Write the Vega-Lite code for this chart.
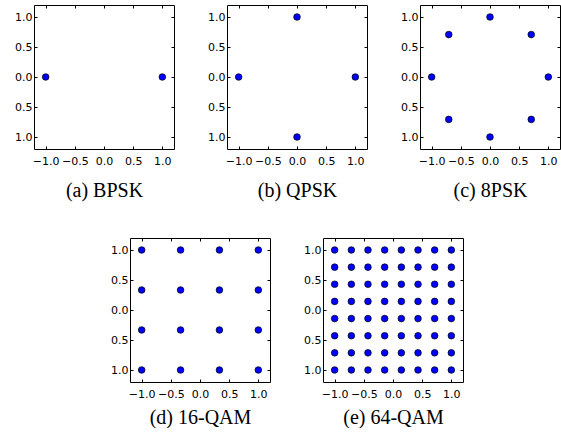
{
  "$schema": "https://vega.github.io/schema/vega-lite/v6.json",
  "padding": {"left": 14, "top": 4, "right": 0, "bottom": 0},
  "background": "white",
  "datasets": {
    "bpsk": [{"x": -1, "y": 0}, {"x": 1, "y": 0}],
    "qpsk": [{"x": 1, "y": 0}, {"x": 0, "y": 1}, {"x": -1, "y": 0}, {"x": 0, "y": -1}],
    "psk8": [
      {"x": 1, "y": 0}, {"x": 0.707, "y": 0.707}, {"x": 0, "y": 1}, {"x": -0.707, "y": 0.707},
      {"x": -1, "y": 0}, {"x": -0.707, "y": -0.707}, {"x": 0, "y": -1}, {"x": 0.707, "y": -0.707}
    ],
    "qam16": [
      {"x": -1, "y": 1}, {"x": -0.333, "y": 1}, {"x": 0.333, "y": 1}, {"x": 1, "y": 1},
      {"x": -1, "y": 0.333}, {"x": -0.333, "y": 0.333}, {"x": 0.333, "y": 0.333}, {"x": 1, "y": 0.333},
      {"x": -1, "y": -0.333}, {"x": -0.333, "y": -0.333}, {"x": 0.333, "y": -0.333}, {"x": 1, "y": -0.333},
      {"x": -1, "y": -1}, {"x": -0.333, "y": -1}, {"x": 0.333, "y": -1}, {"x": 1, "y": -1}
    ],
    "qam64": [
      {"x": -1, "y": 1}, {"x": -0.714, "y": 1}, {"x": -0.429, "y": 1}, {"x": -0.143, "y": 1}, {"x": 0.143, "y": 1}, {"x": 0.429, "y": 1}, {"x": 0.714, "y": 1}, {"x": 1, "y": 1},
      {"x": -1, "y": 0.714}, {"x": -0.714, "y": 0.714}, {"x": -0.429, "y": 0.714}, {"x": -0.143, "y": 0.714}, {"x": 0.143, "y": 0.714}, {"x": 0.429, "y": 0.714}, {"x": 0.714, "y": 0.714}, {"x": 1, "y": 0.714},
      {"x": -1, "y": 0.429}, {"x": -0.714, "y": 0.429}, {"x": -0.429, "y": 0.429}, {"x": -0.143, "y": 0.429}, {"x": 0.143, "y": 0.429}, {"x": 0.429, "y": 0.429}, {"x": 0.714, "y": 0.429}, {"x": 1, "y": 0.429},
      {"x": -1, "y": 0.143}, {"x": -0.714, "y": 0.143}, {"x": -0.429, "y": 0.143}, {"x": -0.143, "y": 0.143}, {"x": 0.143, "y": 0.143}, {"x": 0.429, "y": 0.143}, {"x": 0.714, "y": 0.143}, {"x": 1, "y": 0.143},
      {"x": -1, "y": -0.143}, {"x": -0.714, "y": -0.143}, {"x": -0.429, "y": -0.143}, {"x": -0.143, "y": -0.143}, {"x": 0.143, "y": -0.143}, {"x": 0.429, "y": -0.143}, {"x": 0.714, "y": -0.143}, {"x": 1, "y": -0.143},
      {"x": -1, "y": -0.429}, {"x": -0.714, "y": -0.429}, {"x": -0.429, "y": -0.429}, {"x": -0.143, "y": -0.429}, {"x": 0.143, "y": -0.429}, {"x": 0.429, "y": -0.429}, {"x": 0.714, "y": -0.429}, {"x": 1, "y": -0.429},
      {"x": -1, "y": -0.714}, {"x": -0.714, "y": -0.714}, {"x": -0.429, "y": -0.714}, {"x": -0.143, "y": -0.714}, {"x": 0.143, "y": -0.714}, {"x": 0.429, "y": -0.714}, {"x": 0.714, "y": -0.714}, {"x": 1, "y": -0.714},
      {"x": -1, "y": -1}, {"x": -0.714, "y": -1}, {"x": -0.429, "y": -1}, {"x": -0.143, "y": -1}, {"x": 0.143, "y": -1}, {"x": 0.429, "y": -1}, {"x": 0.714, "y": -1}, {"x": 1, "y": -1}
    ]
  },
  "config": {
    "view": {"stroke": "black", "strokeWidth": 1},
    "axis": {
      "domain": false, "grid": false,
      "labelFont": "DejaVu Sans", "labelFontSize": 11, "labelColor": "black",
      "tickColor": "black", "tickSize": -3, "tickWidth": 1,
      "titleFont": "Liberation Serif", "titleFontSize": 20, "titleFontWeight": "normal", "titleColor": "black",
      "labelOverlap": false, "labelFlush": false,
      "values": [-1, -0.5, 0, 0.5, 1], "format": ".1f"
    }
  },
  "spacing": 36,
  "vconcat": [
    {
      "bounds": "flush",
      "spacing": 53,
      "hconcat": [
        {
          "width": 140, "height": 144,
          "data": {"name": "bpsk"},
          "layer": [
            {"mark": {"type": "point", "filled": true, "fill": "#0000ff", "stroke": "black", "strokeWidth": 0.7, "size": 44, "opacity": 1},
             "encoding": {
               "x": {"field": "x", "type": "quantitative", "scale": {"domain": [-1.2, 1.2], "nice": false, "zero": false}, "axis": {"orient": "bottom", "title": "(a) BPSK", "labelPadding": 9, "titlePadding": 14}},
               "y": {"field": "y", "type": "quantitative", "scale": {"domain": [-1.2, 1.2], "nice": false, "zero": false}, "axis": {"orient": "left", "title": null, "labelPadding": 5, "labelExpr": "replace(datum.label, '−', '')"}}
             }},
            {"mark": {"type": "point", "opacity": 0},
             "encoding": {
               "x": {"field": "x", "type": "quantitative", "axis": {"orient": "top", "labels": false, "title": null}},
               "y": {"field": "y", "type": "quantitative", "axis": {"orient": "right", "labels": false, "title": null}}
             }}
          ],
          "resolve": {"axis": {"x": "independent", "y": "independent"}}
        },
        {
          "width": 140, "height": 144,
          "data": {"name": "qpsk"},
          "layer": [
            {"mark": {"type": "point", "filled": true, "fill": "#0000ff", "stroke": "black", "strokeWidth": 0.7, "size": 44, "opacity": 1},
             "encoding": {
               "x": {"field": "x", "type": "quantitative", "scale": {"domain": [-1.2, 1.2], "nice": false, "zero": false}, "axis": {"orient": "bottom", "title": "(b) QPSK", "labelPadding": 9, "titlePadding": 14}},
               "y": {"field": "y", "type": "quantitative", "scale": {"domain": [-1.2, 1.2], "nice": false, "zero": false}, "axis": {"orient": "left", "title": null, "labelPadding": 5, "labelExpr": "replace(datum.label, '−', '')"}}
             }},
            {"mark": {"type": "point", "opacity": 0},
             "encoding": {
               "x": {"field": "x", "type": "quantitative", "axis": {"orient": "top", "labels": false, "title": null}},
               "y": {"field": "y", "type": "quantitative", "axis": {"orient": "right", "labels": false, "title": null}}
             }}
          ],
          "resolve": {"axis": {"x": "independent", "y": "independent"}}
        },
        {
          "width": 140, "height": 144,
          "data": {"name": "psk8"},
          "layer": [
            {"mark": {"type": "point", "filled": true, "fill": "#0000ff", "stroke": "black", "strokeWidth": 0.7, "size": 44, "opacity": 1},
             "encoding": {
               "x": {"field": "x", "type": "quantitative", "scale": {"domain": [-1.2, 1.2], "nice": false, "zero": false}, "axis": {"orient": "bottom", "title": "(c) 8PSK", "labelPadding": 9, "titlePadding": 14}},
               "y": {"field": "y", "type": "quantitative", "scale": {"domain": [-1.2, 1.2], "nice": false, "zero": false}, "axis": {"orient": "left", "title": null, "labelPadding": 5, "labelExpr": "replace(datum.label, '−', '')"}}
             }},
            {"mark": {"type": "point", "opacity": 0},
             "encoding": {
               "x": {"field": "x", "type": "quantitative", "axis": {"orient": "top", "labels": false, "title": null}},
               "y": {"field": "y", "type": "quantitative", "axis": {"orient": "right", "labels": false, "title": null}}
             }}
          ],
          "resolve": {"axis": {"x": "independent", "y": "independent"}}
        }
      ]
    },
    {
      "bounds": "flush",
      "spacing": 53,
      "hconcat": [
        {
          "width": 43, "height": 144,
          "data": {"values": []},
          "mark": {"type": "point", "opacity": 0},
          "encoding": {},
          "view": {"stroke": null}
        },
        {
          "width": 140, "height": 144,
          "data": {"name": "qam16"},
          "layer": [
            {"mark": {"type": "point", "filled": true, "fill": "#0000ff", "stroke": "black", "strokeWidth": 0.7, "size": 44, "opacity": 1},
             "encoding": {
               "x": {"field": "x", "type": "quantitative", "scale": {"domain": [-1.2, 1.2], "nice": false, "zero": false}, "axis": {"orient": "bottom", "title": "(d) 16-QAM", "labelPadding": 9, "titlePadding": 8}},
               "y": {"field": "y", "type": "quantitative", "scale": {"domain": [-1.2, 1.2], "nice": false, "zero": false}, "axis": {"orient": "left", "title": null, "labelPadding": 5, "labelExpr": "replace(datum.label, '−', '')"}}
             }},
            {"mark": {"type": "point", "opacity": 0},
             "encoding": {
               "x": {"field": "x", "type": "quantitative", "axis": {"orient": "top", "labels": false, "title": null}},
               "y": {"field": "y", "type": "quantitative", "axis": {"orient": "right", "labels": false, "title": null}}
             }}
          ],
          "resolve": {"axis": {"x": "independent", "y": "independent"}}
        },
        {
          "width": 140, "height": 144,
          "data": {"name": "qam64"},
          "layer": [
            {"mark": {"type": "point", "filled": true, "fill": "#0000ff", "stroke": "black", "strokeWidth": 0.7, "size": 44, "opacity": 1},
             "encoding": {
               "x": {"field": "x", "type": "quantitative", "scale": {"domain": [-1.2, 1.2], "nice": false, "zero": false}, "axis": {"orient": "bottom", "title": "(e) 64-QAM", "labelPadding": 9, "titlePadding": 8}},
               "y": {"field": "y", "type": "quantitative", "scale": {"domain": [-1.2, 1.2], "nice": false, "zero": false}, "axis": {"orient": "left", "title": null, "labelPadding": 5, "labelExpr": "replace(datum.label, '−', '')"}}
             }},
            {"mark": {"type": "point", "opacity": 0},
             "encoding": {
               "x": {"field": "x", "type": "quantitative", "axis": {"orient": "top", "labels": false, "title": null}},
               "y": {"field": "y", "type": "quantitative", "axis": {"orient": "right", "labels": false, "title": null}}
             }}
          ],
          "resolve": {"axis": {"x": "independent", "y": "independent"}}
        }
      ]
    }
  ]
}
